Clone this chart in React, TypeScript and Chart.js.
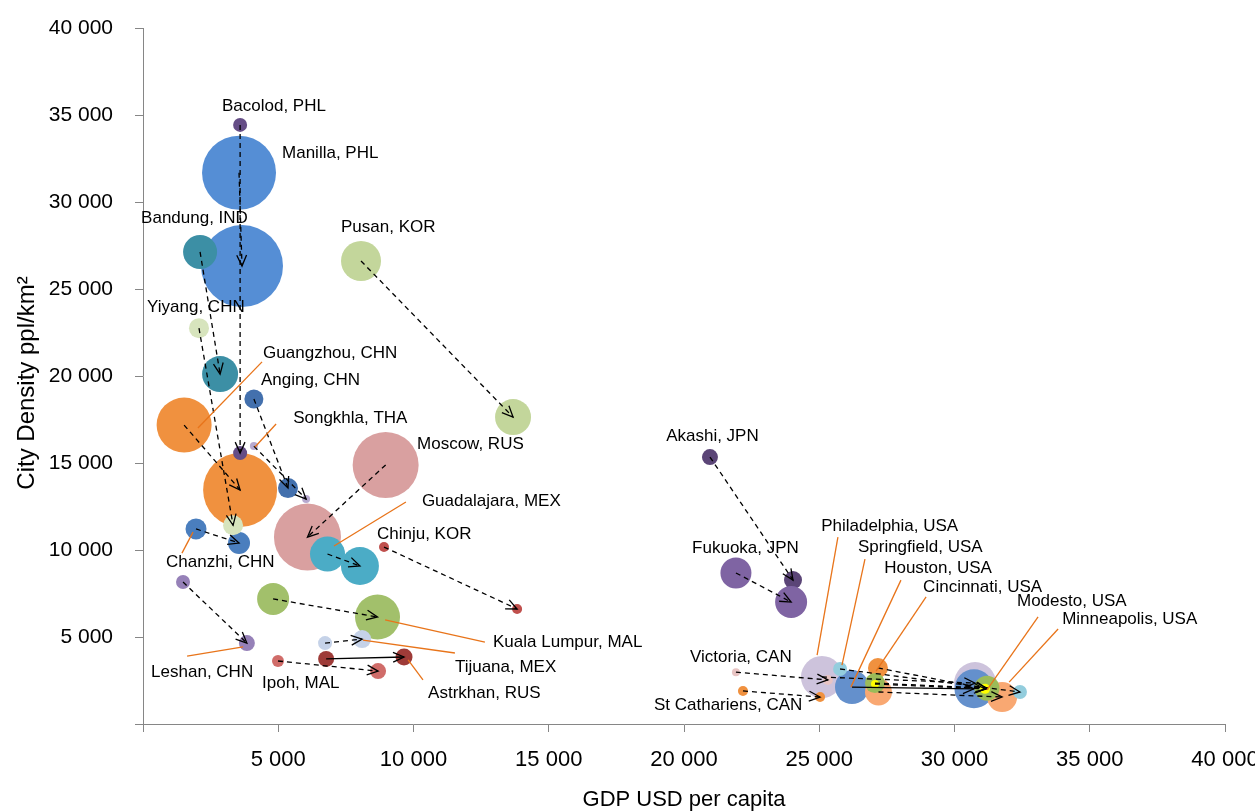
import React, { useEffect, useRef } from 'react';
import { Chart, registerables } from 'chart.js';

Chart.register(...registerables);

// ---- Data ----
const cities = [
  'Manilla, PHL', 'Guangzhou, CHN', 'Moscow, RUS', 'Bandung, IND', 'Bacolod, PHL',
  'Chanzhi, CHN', 'Yiyang, CHN', 'Anging, CHN', 'Songkhla, THA', 'Guadalajara, MEX',
  'Chinju, KOR', 'Leshan, CHN', 'Kuala Lumpur, MAL', 'Tijuana, MEX', 'Astrkhan, RUS',
  'Ipoh, MAL', 'Pusan, KOR', 'Akashi, JPN', 'Fukuoka, JPN', 'Philadelphia, USA',
  'Victoria, CAN', 'St Cathariens, CAN', 'Houston, USA', 'Minneapolis, USA', 'Cincinnati, USA',
  'Springfield, USA', '', 'Modesto, USA',
];

const gdpBefore = [3550, 1520, 8970, 2110, 3590, 1960, 2070, 4100, 4100, 6820, 8910, 1480, 4810, 6730, 6770, 4990, 8060, 20960, 21920, 25100, 21920, 22180, 26210, 27190, 27170, 25770, 27060, 27060];
const densityBefore = [31680, 17180, 14890, 27130, 34430, 11210, 22750, 18680, 15970, 9770, 10170, 8160, 7190, 4650, 3740, 3620, 26610, 15340, 8680, 2700, 2980, 1900, 2120, 1840, 3220, 3160, 2350, 2300];
const sizeBefore = [37, 27.5, 33, 17, 7, 10.5, 10, 9.5, 4, 17.5, 5, 7, 16, 7, 8, 6, 20, 8, 15.5, 21, 4, 5, 17, 13.5, 10, 7, 10, 4];

const gdpAfter = [3660, 3590, 6080, 2850, 3590, 3550, 3330, 5360, 6030, 8020, 13830, 3840, 8670, 8100, 9650, 8690, 13680, 24030, 23960, 30760, 25320, 25030, 30720, 31760, 31200, 32420, 31200, 31130];
const densityAfter = [26320, 13450, 10740, 20110, 15570, 10400, 11420, 13560, 12930, 9080, 6610, 4650, 6150, 4880, 3850, 3040, 17640, 8270, 7010, 2350, 2530, 1550, 2020, 1550, 2020, 1840, 2060, 2020];
const sizeAfter = [41, 37, 33.5, 18, 7, 11, 10, 10, 4, 19, 5, 8, 22.5, 9, 8.5, 8, 18, 9, 16, 21, 5, 5, 19.5, 15, 10, 7, 12.5, 5];

const cityColors = [
  '#558ED5', '#F0913F', '#D9A0A0', '#3C8FA5', '#654D86',
  '#4A7EBE', '#D7E4BD', '#4370AD', '#B7A9CF', '#4BACC6',
  '#C0504D', '#9681B8', '#A2C06B', '#C5D2E8', '#9E3B38',
  '#D06C69', '#C3D69B', '#5B4577', '#7F64A3', '#CDC3DC',
  '#E8C4C3', '#F0913F', '#6490CC', '#F9A872', '#F0913F',
  '#93CDDD', '#9BBB59', '#FFFF00',
];

const solidArrow = [false, false, false, false, false, false, false, false, false, false, false, false, false, false, true, false, false, false, false, false, false, false, true, false, false, false, false, false];

// label anchors (left edge, vertical middle) in data units
const labelGdp = [5140, 4440, 10130, -70, 2920, 850, 150, 4360, 5550, 10310, 8650, 300, 12940, 11530, 10540, 4400, 7320, 19340, 20300, 25070, 20220, 18890, 27400, 33980, 28840, 26430, null, 32310];
const labelDensity = [32820, 21320, 16090, 29080, 35520, 9310, 23970, 19770, 17580, 12820, 10920, 2980, 4710, 3280, 1780, 2350, 28570, 16560, 10110, 11380, 3850, 1100, 8960, 6040, 7880, 10170, null, 7070];

// leader lines (orange) in data units
const leaderFromGdp = [null, 2030, null, null, null, 1850, null, null, 4140, 7060, null, 3700, 8950, 8130, 9800, null, null, null, null, 24920, null, null, 26170, 32020, 27100, 25840, null, 31200];
const leaderFromDensity = [null, 17010, null, null, null, 11030, null, null, 15920, 10230, null, 4430, 5980, 4820, 3680, null, null, null, null, 3960, null, null, 2120, 2410, 3040, 3390, null, 1960];
const leaderToGdp = [null, 4400, null, null, null, 1440, null, null, 4920, 9720, null, 1630, 12640, 11530, 10350, null, null, null, null, 25690, null, null, 28020, 33830, 28950, 26690, null, 33090];
const leaderToDensity = [null, 20810, null, null, null, 9820, null, null, 17240, 12760, null, 3900, 4710, 4080, 2530, null, null, null, null, 10740, null, null, 8270, 5460, 7300, 9480, null, 6150];

const xTitle = 'GDP USD per capita';
const yTitle = 'City Density ppl/km²';

const FONT = "'Liberation Sans', Arial, sans-serif";

const fmt = (v: number) => (v === 0 ? '' : String(v).replace(/\B(?=(\d{3})+(?!\d))/g, ' '));

const noScalePadding = (s: any) => {
  s.paddingTop = 0;
  s.paddingBottom = 0;
  s.paddingLeft = 0;
  s.paddingRight = 0;
};

export default function App() {
  const ref = useRef<HTMLCanvasElement>(null);

  useEffect(() => {
    if (!ref.current) return;
    const points: { x: number; y: number; r: number }[] = [];
    const colors: string[] = [];
    cities.forEach((_, i) => {
      points.push({ x: gdpBefore[i], y: densityBefore[i], r: sizeBefore[i] });
      colors.push(cityColors[i]);
      points.push({ x: gdpAfter[i], y: densityAfter[i], r: sizeAfter[i] });
      colors.push(cityColors[i]);
    });

    const overlay = {
      id: 'overlay',
      afterDatasetsDraw(chart: any) {
        const { ctx } = chart;
        const xs = chart.scales.x;
        const ys = chart.scales.y;
        const px = (v: number) => xs.getPixelForValue(v);
        const py = (v: number) => ys.getPixelForValue(v);
        ctx.save();
        // arrows
        cities.forEach((_, i) => {
          const x1 = px(gdpBefore[i]);
          const y1 = py(densityBefore[i]);
          const x2 = px(gdpAfter[i]);
          const y2 = py(densityAfter[i]);
          ctx.strokeStyle = '#000';
          ctx.lineWidth = 1.3;
          ctx.setLineDash(solidArrow[i] ? [] : [5, 4]);
          ctx.beginPath();
          ctx.moveTo(x1, y1);
          ctx.lineTo(x2, y2);
          ctx.stroke();
          ctx.setLineDash([]);
          const a = Math.atan2(y2 - y1, x2 - x1);
          const L = 12;
          const s = 0.42;
          ctx.beginPath();
          ctx.moveTo(x2 - L * Math.cos(a - s), y2 - L * Math.sin(a - s));
          ctx.lineTo(x2, y2);
          ctx.lineTo(x2 - L * Math.cos(a + s), y2 - L * Math.sin(a + s));
          ctx.stroke();
        });
        // leader lines
        ctx.strokeStyle = '#E8741A';
        ctx.lineWidth = 1.3;
        cities.forEach((_, i) => {
          const fx = leaderFromGdp[i];
          const fy = leaderFromDensity[i];
          const tx = leaderToGdp[i];
          const ty = leaderToDensity[i];
          if (fx == null || fy == null || tx == null || ty == null) return;
          ctx.beginPath();
          ctx.moveTo(px(fx), py(fy));
          ctx.lineTo(px(tx), py(ty));
          ctx.stroke();
        });
        // labels
        ctx.fillStyle = '#000';
        ctx.font = `17px ${FONT}`;
        ctx.textAlign = 'left';
        ctx.textBaseline = 'middle';
        cities.forEach((c, i) => {
          const lx = labelGdp[i];
          const ly = labelDensity[i];
          if (!c || lx == null || ly == null) return;
          ctx.fillText(c, px(lx), py(ly));
        });
        ctx.restore();
      },
      afterDraw(chart: any) {
        const { ctx, chartArea } = chart;
        ctx.save();
        ctx.fillStyle = '#000';
        ctx.textAlign = 'center';
        ctx.textBaseline = 'middle';
        ctx.font = `22px ${FONT}`;
        ctx.fillText(xTitle, (chartArea.left + chartArea.right) / 2, 800);
        ctx.translate(27, 383);
        ctx.rotate(-Math.PI / 2);
        ctx.font = `24px ${FONT}`;
        ctx.fillText(yTitle, 0, 0);
        ctx.restore();
      },
    };

    const chart = new Chart(ref.current, {
      type: 'bubble',
      data: {
        datasets: [
          {
            data: points,
            backgroundColor: colors,
            borderWidth: 0,
            hoverBorderWidth: 0,
          } as any,
        ],
      },
      options: {
        animation: false,
        responsive: false,
        devicePixelRatio: 1,
        layout: { autoPadding: false, padding: { top: 28, right: 30, left: 0, bottom: 0 } },
        plugins: {
          legend: { display: false },
          tooltip: { enabled: false },
        },
        events: [],
        scales: {
          x: {
            type: 'linear',
            min: 0,
            max: 40000,
            afterFit: (s: any) => {
              s.height = 87;
              noScalePadding(s);
            },
            ticks: {
              stepSize: 5000,
              callback: (v: any) => fmt(Number(v)),
              font: { family: FONT, size: 22 },
              color: '#000',
              padding: 15,
              maxRotation: 0,
              autoSkip: false,
            },
            grid: { drawOnChartArea: false, drawTicks: true, tickLength: 8, color: '#868686' },
            border: { display: true, color: '#868686', width: 1 },
          },
          y: {
            type: 'linear',
            min: 0,
            max: 40000,
            afterFit: (s: any) => {
              s.width = 143;
              noScalePadding(s);
            },
            ticks: {
              stepSize: 5000,
              callback: (v: any) => fmt(Number(v)),
              font: { family: FONT, size: 21 },
              color: '#000',
              padding: 22,
              autoSkip: false,
            },
            grid: { drawOnChartArea: false, drawTicks: true, tickLength: 8, color: '#868686' },
            border: { display: true, color: '#868686', width: 1 },
          },
        },
      } as any,
      plugins: [overlay],
    });
    return () => chart.destroy();
  }, []);

  return (
    <div style={{ position: 'absolute', left: 0, top: 0, width: 1255, height: 811 }}>
      <canvas ref={ref} width={1255} height={811} style={{ display: 'block' }} />
    </div>
  );
}
